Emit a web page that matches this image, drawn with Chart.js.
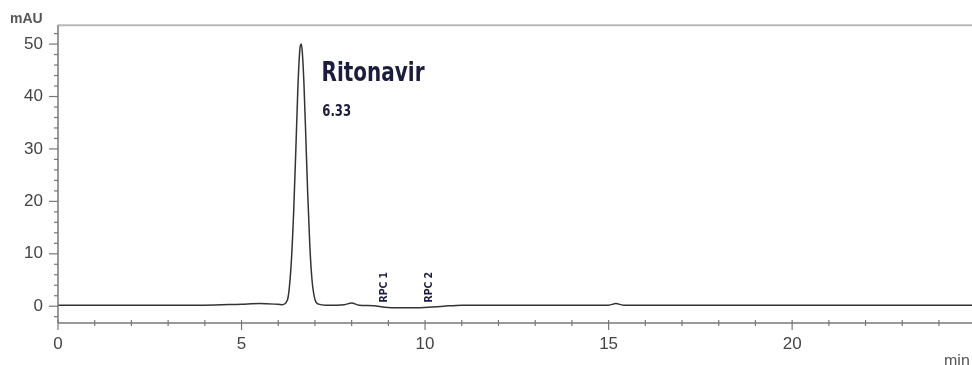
<!DOCTYPE html>
<html>
<head>
<meta charset="utf-8">
<script src="https://cdn.jsdelivr.net/npm/chart.js@4/dist/chart.umd.min.js"></script>
<style>
    html, body { margin: 0; padding: 0; background: #fff; }
    #wrap { width: 972px; height: 365px; position: relative; }
</style>
</head>
<body>
<div id="wrap"><canvas id="chrom"></canvas></div>
<script>
// ─── Data (retention time in min, signal in mAU) ─────────────────────────────
const times  = [0, 1, 2, 3, 4, 5, 5.5, 5.9, 6.1, 6.25, 6.35, 6.42, 6.48, 6.53, 6.57, 6.6, 6.63,
                6.66, 6.7, 6.75, 6.8, 6.86, 6.92, 7.0, 7.1, 7.3, 7.8, 8.0, 8.2, 8.6, 8.9, 9.3,
                9.7, 10.1, 10.5, 11, 12, 13, 14, 15, 15.2, 15.4, 16, 18, 20, 22, 24.9];
const signal = [0.2, 0.2, 0.2, 0.2, 0.2, 0.4, 0.5, 0.4, 0.3, 1.2, 7.8, 18, 30, 40.6, 47, 49.6, 50,
                48, 42.5, 32.5, 22, 11.6, 5, 1.3, 0.4, 0.2, 0.3, 0.6, 0.2, 0.1, -0.2, -0.3,
                -0.3, -0.2, 0.0, 0.2, 0.2, 0.2, 0.2, 0.2, 0.5, 0.2, 0.2, 0.2, 0.2, 0.2, 0.2];

const yMajorTicks = [0, 10, 20, 30, 40, 50];
const xMajorTicks = [0, 5, 10, 15, 20];

// peak annotations
const peakName   = 'Ritonavir';
const peakRT     = '6.33';
const smallPeaks = [[8.86, 'RPC 1'], [10.08, 'RPC 2']];

// draw text squeezed horizontally (condensed look)
function narrowText(c, text, x, y, sx) {
    c.save();
    c.translate(x, y);
    c.scale(sx, 1);
    c.fillText(text, 0, 0);
    c.restore();
}

// ─── Axes / annotation plugin ───────────────────────────────────────────────
const axesPlugin = {
    id: 'axesPlugin',
    afterDraw(chart) {
        const c  = chart.ctx;
        const xs = chart.scales.x;
        const ys = chart.scales.y;
        const a  = chart.chartArea;
        c.save();

        // frame: top line, y axis, x axis
        c.strokeStyle = '#b8b8b8';
        c.lineWidth = 2;
        c.beginPath(); c.moveTo(a.left, a.top); c.lineTo(a.right, a.top); c.stroke();

        c.strokeStyle = '#777';
        c.lineWidth = 1.5;
        c.beginPath(); c.moveTo(a.left, a.top); c.lineTo(a.left, a.bottom); c.stroke();
        c.beginPath(); c.moveTo(a.left, a.bottom); c.lineTo(a.right, a.bottom); c.stroke();

        // y ticks: major every 10, minor every 2
        c.lineWidth = 1.2;
        for (let v = -2; v <= 52; v += 2) {
            const y = ys.getPixelForValue(v);
            const len = v % 10 === 0 ? 9 : 4;
            c.beginPath(); c.moveTo(a.left - len, y); c.lineTo(a.left, y); c.stroke();
        }

        // x ticks: every 1 min, longer at 5
        for (let t = 0; t <= 24; t += 1) {
            const x = xs.getPixelForValue(t);
            const down = t % 5 === 0 ? 7 : 3;
            c.beginPath(); c.moveTo(x, a.bottom - 3); c.lineTo(x, a.bottom + down); c.stroke();
        }

        // unit labels
        c.fillStyle = '#555';
        c.font = 'bold 14px "Liberation Sans", Arial, sans-serif';
        c.textAlign = 'left';
        c.textBaseline = 'alphabetic';
        c.fillText('mAU', 10, 23);
        c.font = '16px "Liberation Sans", Arial, sans-serif';
        c.fillText('min', 944, 366);

        // main peak label
        c.fillStyle = '#1c1c3c';
        c.font = 'bold 27px "DejaVu Sans", sans-serif';
        narrowText(c, peakName, xs.getPixelForValue(7.18), ys.getPixelForValue(43.0), 0.74);
        c.font = 'bold 15px "DejaVu Sans", sans-serif';
        narrowText(c, peakRT, xs.getPixelForValue(7.2), ys.getPixelForValue(36.2), 0.78);

        // small peak labels, rotated
        c.font = 'bold 11px "DejaVu Sans", sans-serif';
        smallPeaks.forEach(([t, label]) => {
            c.save();
            c.translate(xs.getPixelForValue(t) + 4, ys.getPixelForValue(0.7));
            c.rotate(-Math.PI / 2);
            c.scale(0.85, 1);
            c.fillText(label, 0, 0);
            c.restore();
        });

        c.restore();
    }
};

// ─── Chart ──────────────────────────────────────────────────────────────────
const tickFont = { family: '"Liberation Sans", Arial, sans-serif', size: 17 };

new Chart(document.getElementById('chrom'), {
    type: 'line',
    data: {
        datasets: [{
            data: times.map((t, i) => ({ x: t, y: signal[i] })),
            borderColor: '#333',
            borderWidth: 1.5,
            pointRadius: 0,
            fill: false,
            cubicInterpolationMode: 'monotone',
        }],
    },
    options: {
        responsive: true,
        maintainAspectRatio: false,
        animation: false,
        layout: { padding: { top: 23, right: 0, left: 0, bottom: 0 } },
        plugins: { legend: { display: false }, tooltip: { enabled: false } },
        scales: {
            x: {
                type: 'linear',
                min: 0,
                max: 24.9,
                afterFit: s => { s.height = 42; },
                afterBuildTicks: s => { s.ticks = xMajorTicks.map(v => ({ value: v })); },
                grid: { display: false, drawTicks: false, tickLength: 0 },
                border: { display: false },
                ticks: { padding: 11, color: '#444', font: tickFont, maxRotation: 0, autoSkip: false },
            },
            y: {
                min: -3.2,
                max: 53.6,
                afterFit: s => { s.width = 58; },
                afterBuildTicks: s => { s.ticks = yMajorTicks.map(v => ({ value: v })); },
                grid: { display: false, drawTicks: false, tickLength: 0 },
                border: { display: false },
                ticks: { padding: 15, color: '#444', font: tickFont },
            },
        },
    },
    plugins: [axesPlugin],
});
</script>
</body>
</html>
